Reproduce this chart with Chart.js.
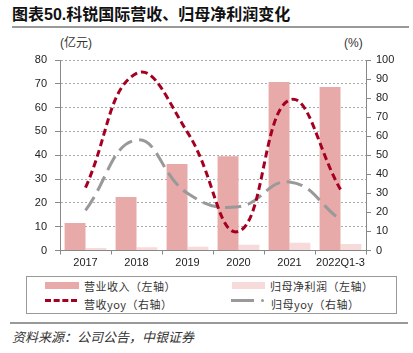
<!DOCTYPE html>
<html>
<head>
<meta charset="utf-8">
<script src="https://cdn.jsdelivr.net/npm/chart.js@4.4.0/dist/chart.umd.min.js"></script>
<style>
  body { margin: 0; width: 413px; height: 353px; position: relative; overflow: hidden; background: #fff;
         font-family: "Liberation Sans", "Noto Sans CJK SC", sans-serif; color: #222; }
  .abs { position: absolute; white-space: nowrap; }
  #title { left: 12px; top: 5px; font-size: 16px; font-weight: bold; line-height: 20px; color: #111; }
  .rule { position: absolute; background: #999; height: 2px; }
  .unit { font-size: 12px; line-height: 14px; top: 36px; color: #333; }
  #chartbox { position: absolute; left: 0; top: 40px; }
  #legend { position: absolute; left: 26px; top: 276px; width: 369px; height: 36px; border: 1px solid #999; }
  .item { position: absolute; font-size: 11px; line-height: 14px; letter-spacing: 0.5px; color: #333; font-family: "Noto Sans CJK SC", sans-serif; }
  .sw { position: absolute; }
  #source { left: 12px; top: 328px; font-size: 13px; line-height: 17px; font-style: italic; color: #333; font-family: "Noto Sans CJK SC", sans-serif; }
</style>
</head>
<body>
<div id="title" class="abs">图表50.科锐国际营收、归母净利润变化</div>
<div class="rule" style="left:12px; top:26px; width:397px;"></div>
<div class="abs unit" style="left:60px;">(亿元)</div>
<div class="abs unit" style="left:344px;">(%)</div>
<div id="chartbox"><canvas id="myChart" width="413" height="232"></canvas></div>
<div id="legend">
  <div class="sw" style="left:18px; top:5px; width:34px; height:7px; background:#E8A9A9;"></div>
  <div class="item" style="left:57px; top:2px;">营业收入（左轴）</div>
  <div class="sw" style="left:205px; top:5px; width:33px; height:7px; background:#F7DADA;"></div>
  <div class="item" style="left:243px; top:2px;">归母净利润（左轴）</div>
  <div class="sw" style="left:18px; top:22px; width:32px; height:0; border-top:3px dashed #A50021;"></div>
  <div class="item" style="left:57px; top:20px;">营收yoy（右轴）</div>
  <div class="sw" style="left:204px; top:22px; width:23px; height:3px; background:#999;"></div>
  <div class="sw" style="left:234px; top:22px; width:3px; height:3px; border-radius:2px; background:#999;"></div>
  <div class="item" style="left:244px; top:20px;">归母yoy（右轴）</div>
</div>
<div class="rule" style="left:10px; top:322px; width:398px;"></div>
<div id="source" class="abs">资料来源：公司公告，中银证券</div>

<script>
const years = ["2017", "2018", "2019", "2020", "2021", "2022Q1-3"];
const revenue = [11.6, 22.5, 36.3, 39.6, 70.8, 68.7];   // 营业收入，亿元
const netProfit = [1.0, 1.4, 1.6, 2.4, 3.3, 2.7];     // 归母净利润，亿元
const revenueYoy = [33, 93, 62, 10, 79, 32];          // %
const profitYoy = [21, 58, 30, 23, 36, 16];           // %
const leftTicks = [0, 80, 10];
const rightTicks = [0, 100, 10];

const tickFont = { family: "Liberation Sans", size: 11 };

const ctx = document.getElementById("myChart");

new Chart(ctx, {
    data: {
        labels: years,
        datasets: [
            {
                type: "line", label: "营收yoy（右轴）", data: revenueYoy, yAxisID: "y2",
                borderColor: "#A50021", borderWidth: 3, borderDash: [7, 4], tension: 0.45,
                pointRadius: 0, fill: false, order: 0
            },
            {
                type: "line", label: "归母yoy（右轴）", data: profitYoy, yAxisID: "y2",
                borderColor: "#999999", borderWidth: 3, borderDash: [16, 7], tension: 0.45,
                pointRadius: 0, fill: false, order: 0
            },
            {
                type: "bar", label: "营业收入（左轴）", data: revenue, yAxisID: "y",
                backgroundColor: "#E8A9A9", categoryPercentage: 0.82, barPercentage: 1, order: 1
            },
            {
                type: "bar", label: "归母净利润（左轴）", data: netProfit, yAxisID: "y",
                backgroundColor: "#F7DADA", categoryPercentage: 0.82, barPercentage: 1, order: 1
            }
        ]
    },
    options: {
        responsive: false,
        animation: false,
        layout: { padding: { top: 20, left: 0, right: 0, bottom: 0 } },
        plugins: { legend: { display: false }, tooltip: { enabled: false } },
        scales: {
            x: {
                offset: true,
                grid: { offset: true, drawOnChartArea: false, drawTicks: true, tickLength: 4, color: "#888" },
                border: { color: "#888", width: 1 },
                ticks: { font: tickFont, color: "#222", padding: 2, maxRotation: 0, autoSkip: false },
                afterFit: (s) => { s.height = 21.5; }
            },
            y: {
                position: "left", min: leftTicks[0], max: leftTicks[1],
                ticks: { stepSize: leftTicks[2], font: tickFont, color: "#222", padding: 8 },
                grid: { color: "#aaa", tickColor: "#888", tickLength: 5 },
                border: { color: "#888", width: 1, dash: [2, 2] },
                afterFit: (s) => { s.width = 60; }
            },
            y2: {
                position: "right", min: rightTicks[0], max: rightTicks[1],
                ticks: { stepSize: rightTicks[2], font: tickFont, color: "#222", padding: 5 },
                grid: { drawOnChartArea: false, tickColor: "#888", tickLength: 5 },
                border: { color: "#888", width: 1 },
                afterFit: (s) => { s.width = 47; }
            }
        }
    }
});
</script>
</body>
</html>
